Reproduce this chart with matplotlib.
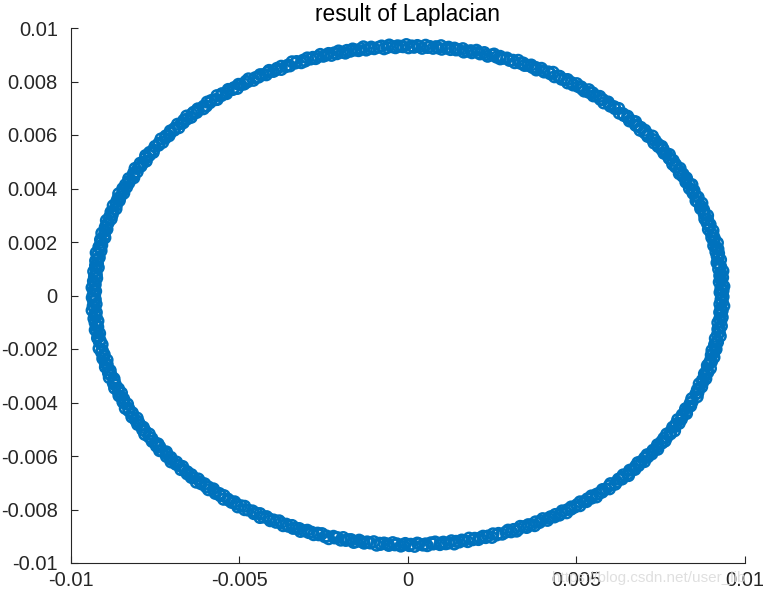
import numpy as np
import matplotlib
matplotlib.use("Agg")
import matplotlib.pyplot as plt
from matplotlib.ticker import FixedLocator, FixedFormatter

# ---- data (read/estimated from the picture) ----
title = "result of Laplacian"

# angular position of each point, in tenths of a degree
angle_tenths = [
    2, 7, 11, 17, 21, 26, 31, 37, 41, 46, 52, 56, 61, 67, 71, 76, 82, 86, 91, 97, 101, 107, 112, 116,
    121, 126, 132, 135, 140, 147, 150, 155, 162, 165, 170, 177, 180, 186, 190, 195, 201, 205, 210, 216, 220, 225, 231, 237,
    243, 248, 250, 256, 262, 265, 272, 276, 280, 287, 291, 295, 302, 305, 312, 317, 320, 327, 332, 335, 342, 346, 350, 358,
    360, 365, 369, 374, 380, 384, 388, 394, 399, 403, 409, 413, 419, 423, 429, 433, 439, 443, 448, 454, 458, 464, 468, 474,
    482, 487, 491, 497, 501, 506, 511, 517, 521, 526, 532, 536, 541, 547, 551, 556, 562, 566, 571, 577, 581, 587, 592, 596,
    601, 606, 612, 615, 620, 627, 630, 635, 642, 645, 650, 657, 660, 666, 670, 675, 681, 685, 690, 696, 700, 705, 711, 717,
    723, 728, 730, 736, 742, 745, 752, 756, 760, 767, 771, 775, 782, 785, 792, 797, 800, 807, 812, 815, 822, 826, 830, 838,
    840, 845, 849, 854, 860, 864, 868, 874, 879, 883, 889, 893, 899, 903, 909, 913, 919, 923, 928, 934, 938, 944, 948, 954,
    962, 967, 971, 977, 981, 986, 991, 997, 1001, 1006, 1012, 1016, 1021, 1027, 1031, 1036, 1042, 1046, 1051, 1057, 1061, 1067, 1072, 1076,
    1081, 1086, 1092, 1095, 1100, 1107, 1110, 1115, 1122, 1125, 1130, 1137, 1140, 1146, 1150, 1155, 1161, 1165, 1170, 1176, 1180, 1185, 1191, 1197,
    1203, 1208, 1210, 1216, 1222, 1225, 1232, 1236, 1240, 1247, 1251, 1255, 1262, 1265, 1272, 1277, 1280, 1287, 1292, 1295, 1302, 1306, 1310, 1318,
    1320, 1325, 1329, 1334, 1340, 1344, 1348, 1354, 1359, 1363, 1369, 1373, 1379, 1383, 1389, 1393, 1399, 1403, 1408, 1414, 1418, 1424, 1428, 1434,
    1442, 1447, 1451, 1457, 1461, 1466, 1471, 1477, 1481, 1486, 1492, 1496, 1501, 1507, 1511, 1516, 1522, 1526, 1531, 1537, 1541, 1547, 1552, 1556,
    1561, 1566, 1572, 1575, 1580, 1587, 1590, 1595, 1602, 1605, 1610, 1617, 1620, 1626, 1630, 1635, 1641, 1645, 1650, 1656, 1660, 1665, 1671, 1677,
    1683, 1688, 1690, 1696, 1702, 1705, 1712, 1716, 1720, 1727, 1731, 1735, 1742, 1745, 1752, 1757, 1760, 1767, 1772, 1775, 1782, 1786, 1790, 1798,
    1800, 1805, 1809, 1814, 1820, 1824, 1828, 1834, 1839, 1843, 1849, 1853, 1859, 1863, 1869, 1873, 1879, 1883, 1888, 1894, 1898, 1904, 1908, 1914,
    1922, 1927, 1931, 1937, 1941, 1946, 1951, 1957, 1961, 1966, 1972, 1976, 1981, 1987, 1991, 1996, 2002, 2006, 2011, 2017, 2021, 2027, 2032, 2036,
    2041, 2046, 2052, 2055, 2060, 2067, 2070, 2075, 2082, 2085, 2090, 2097, 2100, 2106, 2110, 2115, 2121, 2125, 2130, 2136, 2140, 2145, 2151, 2157,
    2163, 2168, 2170, 2176, 2182, 2185, 2192, 2196, 2200, 2207, 2211, 2215, 2222, 2225, 2232, 2237, 2240, 2247, 2252, 2255, 2262, 2266, 2270, 2278,
    2280, 2285, 2289, 2294, 2300, 2304, 2308, 2314, 2319, 2323, 2329, 2333, 2339, 2343, 2349, 2353, 2359, 2363, 2368, 2374, 2378, 2384, 2388, 2394,
    2402, 2407, 2411, 2417, 2421, 2426, 2431, 2437, 2441, 2446, 2452, 2456, 2461, 2467, 2471, 2476, 2482, 2486, 2491, 2497, 2501, 2507, 2512, 2516,
    2521, 2526, 2532, 2535, 2540, 2547, 2550, 2555, 2562, 2565, 2570, 2577, 2580, 2586, 2590, 2595, 2601, 2605, 2610, 2616, 2620, 2625, 2631, 2637,
    2643, 2648, 2650, 2656, 2662, 2665, 2672, 2676, 2680, 2687, 2691, 2695, 2702, 2705, 2712, 2717, 2720, 2727, 2732, 2735, 2742, 2746, 2750, 2758,
    2760, 2765, 2769, 2774, 2780, 2784, 2788, 2794, 2799, 2803, 2809, 2813, 2819, 2823, 2829, 2833, 2839, 2843, 2848, 2854, 2858, 2864, 2868, 2874,
    2882, 2887, 2891, 2897, 2901, 2906, 2911, 2917, 2921, 2926, 2932, 2936, 2941, 2947, 2951, 2956, 2962, 2966, 2971, 2977, 2981, 2987, 2992, 2996,
    3001, 3006, 3012, 3015, 3020, 3027, 3030, 3035, 3042, 3045, 3050, 3057, 3060, 3066, 3070, 3075, 3081, 3085, 3090, 3096, 3100, 3105, 3111, 3117,
    3123, 3128, 3130, 3136, 3142, 3145, 3152, 3156, 3160, 3167, 3171, 3175, 3182, 3185, 3192, 3197, 3200, 3207, 3212, 3215, 3222, 3226, 3230, 3238,
    3240, 3245, 3249, 3254, 3260, 3264, 3268, 3274, 3279, 3283, 3289, 3293, 3299, 3303, 3309, 3313, 3319, 3323, 3328, 3334, 3338, 3344, 3348, 3354,
    3362, 3367, 3371, 3377, 3381, 3386, 3391, 3397, 3401, 3406, 3412, 3416, 3421, 3427, 3431, 3436, 3442, 3446, 3451, 3457, 3461, 3467, 3472, 3476,
    3481, 3486, 3492, 3495, 3500, 3507, 3510, 3515, 3522, 3525, 3530, 3537, 3540, 3546, 3550, 3555, 3561, 3565, 3570, 3576, 3580, 3585, 3591, 3597,
]

# distance of each point from the centre, in units of 1e-5
radius_e5 = [
    931, 926, 935, 929, 938, 933, 925, 930, 936, 928, 932, 939, 927, 934, 930, 925, 937, 931, 929, 935, 928, 936, 932, 926,
    939, 930, 934, 927, 933, 929, 937, 925, 931, 935, 928, 933, 926, 938, 930, 932, 934, 927, 931, 938, 929, 925, 936, 932,
    928, 935, 930, 926, 939, 933, 927, 931, 936, 929, 934, 925, 930, 937, 928, 933, 926, 935, 931, 929, 938, 932, 927, 934,
    930, 937, 928, 933, 926, 935, 931, 939, 927, 932, 929, 936, 925, 934, 930, 928, 937, 933, 926, 931, 935, 929, 932, 926,
    938, 930, 934, 928, 931, 936, 925, 933, 929, 937, 932, 927, 935, 930, 938, 926, 929, 934, 930, 937, 927, 932, 925, 936,
    931, 928, 935, 933, 926, 939, 930, 934, 928, 931, 937, 925, 933, 929, 936, 931, 927, 934, 930, 938, 926, 933, 929, 935,
    931, 926, 935, 929, 938, 933, 925, 930, 936, 928, 932, 939, 927, 934, 930, 925, 937, 931, 929, 935, 928, 936, 932, 926,
    939, 930, 934, 927, 933, 929, 937, 925, 931, 935, 928, 933, 926, 938, 930, 932, 934, 927, 931, 938, 929, 925, 936, 932,
    928, 935, 930, 926, 939, 933, 927, 931, 936, 929, 934, 925, 930, 937, 928, 933, 926, 935, 931, 929, 938, 932, 927, 934,
    930, 937, 928, 933, 926, 935, 931, 939, 927, 932, 929, 936, 925, 934, 930, 928, 937, 933, 926, 931, 935, 929, 932, 926,
    938, 930, 934, 928, 931, 936, 925, 933, 929, 937, 932, 927, 935, 930, 938, 926, 929, 934, 930, 937, 927, 932, 925, 936,
    931, 928, 935, 933, 926, 939, 930, 934, 928, 931, 937, 925, 933, 929, 936, 931, 927, 934, 930, 938, 926, 933, 929, 935,
    931, 926, 935, 929, 938, 933, 925, 930, 936, 928, 932, 939, 927, 934, 930, 925, 937, 931, 929, 935, 928, 936, 932, 926,
    939, 930, 934, 927, 933, 929, 937, 925, 931, 935, 928, 933, 926, 938, 930, 932, 934, 927, 931, 938, 929, 925, 936, 932,
    928, 935, 930, 926, 939, 933, 927, 931, 936, 929, 934, 925, 930, 937, 928, 933, 926, 935, 931, 929, 938, 932, 927, 934,
    930, 937, 928, 933, 926, 935, 931, 939, 927, 932, 929, 936, 925, 934, 930, 928, 937, 933, 926, 931, 935, 929, 932, 926,
    938, 930, 934, 928, 931, 936, 925, 933, 929, 937, 932, 927, 935, 930, 938, 926, 929, 934, 930, 937, 927, 932, 925, 936,
    931, 928, 935, 933, 926, 939, 930, 934, 928, 931, 937, 925, 933, 929, 936, 931, 927, 934, 930, 938, 926, 933, 929, 935,
    931, 926, 935, 929, 938, 933, 925, 930, 936, 928, 932, 939, 927, 934, 930, 925, 937, 931, 929, 935, 928, 936, 932, 926,
    939, 930, 934, 927, 933, 929, 937, 925, 931, 935, 928, 933, 926, 938, 930, 932, 934, 927, 931, 938, 929, 925, 936, 932,
    928, 935, 930, 926, 939, 933, 927, 931, 936, 929, 934, 925, 930, 937, 928, 933, 926, 935, 931, 929, 938, 932, 927, 934,
    930, 937, 928, 933, 926, 935, 931, 939, 927, 932, 929, 936, 925, 934, 930, 928, 937, 933, 926, 931, 935, 929, 932, 926,
    938, 930, 934, 928, 931, 936, 925, 933, 929, 937, 932, 927, 935, 930, 938, 926, 929, 934, 930, 937, 927, 932, 925, 936,
    931, 928, 935, 933, 926, 939, 930, 934, 928, 931, 937, 925, 933, 929, 936, 931, 927, 934, 930, 938, 926, 933, 929, 935,
    931, 926, 935, 929, 938, 933, 925, 930, 936, 928, 932, 939, 927, 934, 930, 925, 937, 931, 929, 935, 928, 936, 932, 926,
    939, 930, 934, 927, 933, 929, 937, 925, 931, 935, 928, 933, 926, 938, 930, 932, 934, 927, 931, 938, 929, 925, 936, 932,
    928, 935, 930, 926, 939, 933, 927, 931, 936, 929, 934, 925, 930, 937, 928, 933, 926, 935, 931, 929, 938, 932, 927, 934,
    930, 937, 928, 933, 926, 935, 931, 939, 927, 932, 929, 936, 925, 934, 930, 928, 937, 933, 926, 931, 935, 929, 932, 926,
    938, 930, 934, 928, 931, 936, 925, 933, 929, 937, 932, 927, 935, 930, 938, 926, 929, 934, 930, 937, 927, 932, 925, 936,
    931, 928, 935, 933, 926, 939, 930, 934, 928, 931, 937, 925, 933, 929, 936, 931, 927, 934, 930, 938, 926, 933, 929, 935,
]

x_ticks = [-0.01, -0.005, 0, 0.005, 0.01]
x_tick_labels = ["-0.01", "-0.005", "0", "0.005", "0.01"]
y_ticks = [-0.01, -0.008, -0.006, -0.004, -0.002, 0, 0.002, 0.004, 0.006, 0.008, 0.01]
y_tick_labels = ["-0.01", "-0.008", "-0.006", "-0.004", "-0.002", "0",
                 "0.002", "0.004", "0.006", "0.008", "0.01"]
watermark = "https://blog.csdn.net/user_lib"

# ---- convert polar readings to x/y ----
theta = np.deg2rad(np.array(angle_tenths) / 10.0)
r = np.array(radius_e5) * 1e-5
xs = r * np.cos(theta)
ys = r * np.sin(theta)

plt.rcParams['font.family'] = ['Liberation Sans', 'DejaVu Sans']

W, H = 766, 595
fig = plt.figure(figsize=(W / 100, H / 100), dpi=100)
ax = fig.add_axes([71 / W, (H - 563) / H, (745 - 71) / W, (563 - 28) / H])

ax.scatter(xs, ys, s=58, marker='o', facecolors='none',
           edgecolors='#0072BD', linewidths=1.8)

ax.set_xlim(-0.01, 0.01)
ax.set_ylim(-0.01, 0.01)
ax.xaxis.set_major_locator(FixedLocator(x_ticks))
ax.xaxis.set_major_formatter(FixedFormatter(x_tick_labels))
ax.yaxis.set_major_locator(FixedLocator(y_ticks))
ax.yaxis.set_major_formatter(FixedFormatter(y_tick_labels))

for s in ['top', 'right']:
    ax.spines[s].set_visible(False)
for s in ['left', 'bottom']:
    ax.spines[s].set_color('#262626')
    ax.spines[s].set_linewidth(0.8)

ax.tick_params(direction='in', length=5, width=0.8, colors='#262626',
               labelsize=14.5, labelcolor='#262626')
ax.tick_params(axis='y', pad=9.5)
ax.tick_params(axis='x', pad=6)

ax.set_title(title, fontsize=16.4, color='black', pad=5)

fig.text(745 / W, (H - 578) / H, watermark, ha='right', va='center',
         fontsize=11, color='#dcdcdc', alpha=0.9)

fig.savefig('out.png', dpi=100)
